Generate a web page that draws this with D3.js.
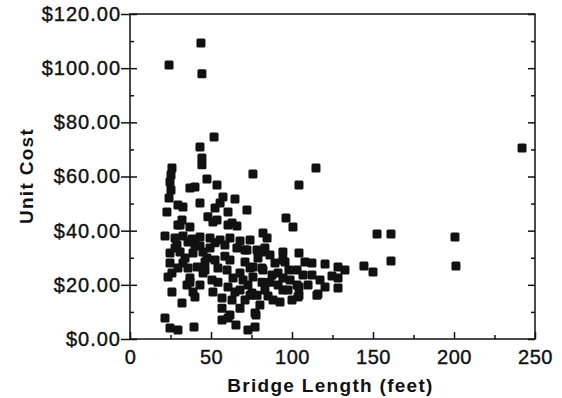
<!DOCTYPE html>
<html>
<head>
<meta charset="utf-8">
<script src="https://cdn.jsdelivr.net/npm/d3@7"></script>
<style>
  body { margin: 0; background: #fff; }
  text { font-family: "Liberation Sans", Arial, Helvetica, sans-serif; }
</style>
</head>
<body>
<div id="chart"></div>
<script>
// bridge length (feet) and unit cost ($)
const lengths = [24.1, 43.8, 44.4, 51.9, 43.2, 242, 25.9, 25.3, 24.7, 25.3, 24.1, 22.8, 44.4, 44.4, 47.5, 53.7,
  37, 40.1, 57.4, 64.8, 43.2, 29.6, 32.7, 55.6, 52.5, 72.2, 60.5, 48.1, 53.7, 60.5, 32.1, 37, 29.6, 75.9, 114.8,
  104.3, 96.3, 100.6, 82.1, 84.6, 152.5, 161.1, 200.6, 161.1, 150, 201.2, 104.3, 112.3, 120.4, 128.4, 132.7,
  144.4, 124.7, 120.4, 116, 128.4, 128.4, 104.3, 104.3, 94.4, 94.4, 81.5, 77.2, 77.2, 21.6, 27.8, 32.7, 38.3,
  43.2, 49.4, 55.6, 61.7, 67.9, 74.1, 30.9, 51.2, 63, 29, 35.8, 43.2, 52.5, 58.6, 24.7, 30.9, 38.9, 45.1, 24.7,
  32.7, 41.4, 46.3, 52.5, 59.9, 67.9, 75.9, 25.9, 37, 45.1, 25.9, 35.2, 38.9, 51.2, 60.5, 67.9, 75.3, 66, 66,
  72.2, 78.4, 83.3, 74.1, 82.1, 89.5, 95.7, 103.1, 106.8, 63.6, 69.8, 75.9, 86.4, 94.4, 103.1, 103.7, 115.4,
  78.4, 88.3, 94.4, 83.3, 91.4, 98.8, 109.9, 71, 80.2, 61.7, 32.1, 21.6, 24.7, 29.6, 39.5, 56.8, 60.5, 65.4,
  72.8, 77.8, 23.5, 37, 40.1, 85.2, 92.6, 100, 81.5, 91.4, 98.1, 108, 112.3, 117.3, 71, 79, 86.4, 58.6, 50.6,
  56.8, 63, 67.9, 27.8, 34, 40.1, 47.5, 54.3, 61.7, 71, 49.4, 29.6, 35.8, 43.2, 54.3, 64.8, 72.8, 81.5, 87.7,
  97.5, 74.1, 56.8, 46.3];
const costs = [101.2, 109.3, 97.9, 74.6, 70.9, 70.5, 63.1, 60.6, 58, 55, 52.1, 46.9, 66.8, 64.3, 59.1, 56.9,
  55.8, 56.1, 52.4, 51.7, 50.2, 49.5, 48.7, 50.2, 48.4, 47.6, 46.9, 45.1, 43.9, 42.1, 43.9, 41.4, 42.1, 60.9, 63.1,
  56.9, 44.7, 41.4, 39.1, 37.3, 38.8, 38.8, 37.7, 28.8, 24.7, 27, 31.8, 28.1, 27.7, 26.6, 25.5,
  27, 23.3, 19.2, 16.6, 22.5, 18.8, 19.2, 16.2, 32.1, 29.2, 32.1, 9.6, 4.4, 38, 37.3, 38, 36.9,
  37.7, 37.3, 36.6, 37.3, 36.2, 36.6, 42.1, 43.2, 42.8, 34.7, 35.8, 34.3, 35.5, 34.7, 31.8, 32.1, 31.8, 32.1, 28.1,
  28.1, 26.6, 25.5, 29.2, 25.5, 24.4, 26.6, 24.4, 22.5, 24.4, 17.4, 19.9, 17.4, 17.4, 19.2, 18.1, 17, 41.7, 33.6,
  32.9, 32.9, 33.6, 26.2, 25.5, 28.1, 28.4, 25.5, 23.6, 22.5, 21.8, 22.9, 21, 22.5, 19.9, 15.5, 16.2,
  16.2, 14.4, 18.1, 18.1, 19.9, 21.8, 19.9, 14.4, 12.6, 8.9, 13.3, 7.8, 4.1, 3.3, 4.4, 7, 7.8, 5.2,
  3.3, 8.9, 22.9, 21, 15.5, 15.9, 13.7, 14.4, 21, 24.4, 25.5, 28.4, 23.6, 21.8, 28.4, 29.9, 31, 30.6, 21.8,
  15.1, 14.4, 11.4, 33.6, 29.9, 34.7, 29.9, 26.2, 29.2, 32.9, 33.6, 26.2, 26.2, 19.9, 21, 17.4, 19.9, 26.2, 23.6,
  18.1, 16.2, 11.4, 28.4];

const xMajor = [0, 50, 100, 150, 200, 250];
const xMinor = [25, 75, 125, 175, 225];
const yMajor = [0, 20, 40, 60, 80, 100, 120];
const yMinor = [10, 30, 50, 70, 90, 110];
const xLabel = "Bridge Length (feet)";
const yLabel = "Unit Cost";

const width = 562, height = 398;
const margin = { top: 14, right: 27, bottom: 59, left: 130 };
const w = width - margin.left - margin.right;
const h = height - margin.top - margin.bottom;
const ink = "#111";

const svg = d3.select("#chart").append("svg")
  .attr("width", width)
  .attr("height", height)
  .style("background", "#fff");

const g = svg.append("g").attr("transform", `translate(${margin.left},${margin.top})`);

const x = d3.scaleLinear().domain([0, 250]).range([0, w]);
const y = d3.scaleLinear().domain([0, 120]).range([h, 0]);

// frame
g.append("rect")
  .attr("x", 0).attr("y", 0).attr("width", w).attr("height", h)
  .attr("fill", "none").attr("stroke", ink).attr("stroke-width", 1.5);

function styleAxis(sel) {
  sel.select(".domain").remove();
  sel.selectAll("line").attr("stroke", ink).attr("stroke-width", 1.5);
}

function styleLabels(sel, spacing) {
  sel.selectAll("text")
    .attr("fill", ink)
    .attr("stroke", ink)
    .attr("stroke-width", 0.4)
    .style("font-size", "20px")
    .style("letter-spacing", spacing)
    .style("font-family", "'Liberation Sans', Arial, sans-serif");
}

// left axis: labelled majors crossing the frame, minors inside
g.append("g")
  .call(d3.axisLeft(y).tickValues(yMajor).tickSize(9).tickPadding(0).tickFormat(d3.format("$.2f")))
  .call(styleAxis)
  .call((s) => styleLabels(s, "1px"));
g.append("g").call(d3.axisRight(y).tickValues(yMajor).tickSize(7).tickFormat("")).call(styleAxis);
g.append("g").call(d3.axisRight(y).tickValues(yMinor).tickSize(4).tickFormat("")).call(styleAxis);

// right axis, ticks inward
g.append("g").attr("transform", `translate(${w},0)`)
  .call(d3.axisLeft(y).tickValues(yMajor).tickSize(7).tickFormat("")).call(styleAxis);
g.append("g").attr("transform", `translate(${w},0)`)
  .call(d3.axisLeft(y).tickValues(yMinor).tickSize(4).tickFormat("")).call(styleAxis);

// bottom axis, ticks inward
g.append("g").attr("transform", `translate(0,${h})`)
  .call(d3.axisBottom(x).tickValues(xMajor).tickSizeInner(-7).tickSizeOuter(0).tickPadding(11))
  .call(styleAxis)
  .call((s) => styleLabels(s, "0.5px"));
g.append("g").attr("transform", `translate(0,${h})`)
  .call(d3.axisBottom(x).tickValues(xMinor).tickSizeInner(-4).tickSizeOuter(0).tickFormat(""))
  .call(styleAxis);

// points
const size = 9;
g.selectAll("rect.pt")
  .data(lengths)
  .enter()
  .append("rect")
  .attr("class", "pt")
  .attr("x", (d) => x(d) - size / 2)
  .attr("y", (d, i) => y(costs[i]) - size / 2)
  .attr("width", size)
  .attr("height", size)
  .attr("rx", 1.5)
  .attr("fill", ink);

// axis titles
svg.append("text")
  .attr("x", margin.left + w / 2 - 2)
  .attr("y", 392)
  .style("text-anchor", "middle")
  .style("font-size", "19px")
  .style("font-weight", "bold")
  .style("letter-spacing", "1.3px")
  .attr("fill", ink)
  .text(xLabel);

svg.append("text")
  .attr("transform", "rotate(-90)")
  .attr("x", -176)
  .attr("y", 33)
  .style("text-anchor", "middle")
  .style("font-size", "19px")
  .style("font-weight", "bold")
  .style("letter-spacing", "1.3px")
  .attr("fill", ink)
  .text(yLabel);
</script>
</body>
</html>
